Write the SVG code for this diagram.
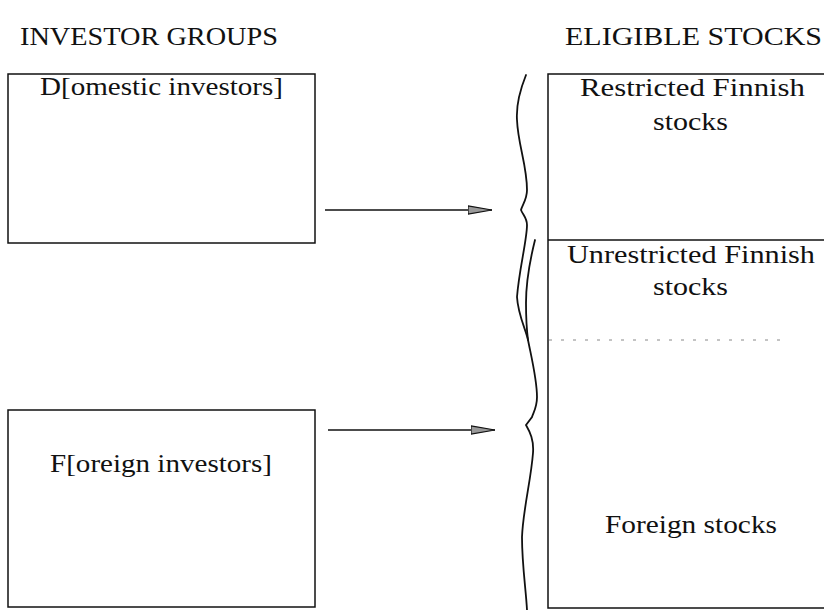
<svg xmlns="http://www.w3.org/2000/svg" width="824" height="610" viewBox="0 0 824 610">
<defs>
<style>
.t{font-family:"Liberation Serif","Times New Roman",serif;font-size:25px;fill:#111}
.box{fill:none;stroke:#111;stroke-width:1.5}
.ln{fill:none;stroke:#111;stroke-width:1.6}
.brace{fill:none;stroke:#111;stroke-width:1.8;stroke-linecap:round}
.dot{fill:none;stroke:#888;stroke-width:1;stroke-dasharray:3 9}
</style>
<marker id="ah" viewBox="0 0 24 10" refX="24" refY="5" markerWidth="24" markerHeight="10" markerUnits="userSpaceOnUse" orient="auto">
<path d="M0,0.8 L24,5 L0,9.2 Z" fill="#999" stroke="#111" stroke-width="1.2"/>
</marker>
</defs>
<rect width="824" height="610" fill="#fff"/>
<text class="t" x="20" y="45" textLength="258" lengthAdjust="spacingAndGlyphs">INVESTOR GROUPS</text>
<text class="t" x="565" y="45" textLength="257" lengthAdjust="spacingAndGlyphs">ELIGIBLE STOCKS</text>
<g id="domestic">
<rect class="box" x="8" y="74" width="307" height="169"/>
<text class="t" x="40" y="95" textLength="243" lengthAdjust="spacingAndGlyphs">D[omestic investors]</text>
</g>
<g id="foreign">
<rect class="box" x="8" y="410" width="307" height="197"/>
<text class="t" x="50" y="472" textLength="222" lengthAdjust="spacingAndGlyphs">F[oreign investors]</text>
</g>
<g id="stocks">
<rect class="box" x="548" y="74" width="300" height="534"/>
<line class="box" x1="548" y1="240" x2="830" y2="240"/>
<line class="dot" x1="549" y1="340" x2="780" y2="340"/>
</g>
<g id="restricted">
<text class="t" x="580" y="96" textLength="225" lengthAdjust="spacingAndGlyphs">Restricted Finnish</text>
<text class="t" x="653" y="130" textLength="75" lengthAdjust="spacingAndGlyphs">stocks</text>
</g>
<g id="unrestricted">
<text class="t" x="567" y="263" textLength="248" lengthAdjust="spacingAndGlyphs">Unrestricted Finnish</text>
<text class="t" x="653" y="295" textLength="75" lengthAdjust="spacingAndGlyphs">stocks</text>
</g>
<g id="foreign-stocks">
<text class="t" x="605" y="533" textLength="172" lengthAdjust="spacingAndGlyphs">Foreign stocks</text>
</g>
<g id="brace">
<path class="brace" d="M526,75 C520,90 516,105 517,120 C518,145 527,165 527,190 C527,200 522,205 521,210 C523,215 527,218 527,225 C527,240 519,270 517,297 C518,315 526,330 528,340 C532,360 537,380 537,397 C537,408 533,413 532,417 L526,425 C530,432 534,440 533,453 C531,480 523,510 522,537 C522,565 526,590 527,610"/>
<path class="brace" d="M535,240 C530,260 526,285 526,303 C526,320 527,332 528,340" stroke-width="1.3"/>
</g>
<g id="connectors">
<line class="ln" x1="325" y1="210" x2="492" y2="210" marker-end="url(#ah)"/>
<line class="ln" x1="328" y1="430" x2="495" y2="430" marker-end="url(#ah)"/>
</g>
</svg>
